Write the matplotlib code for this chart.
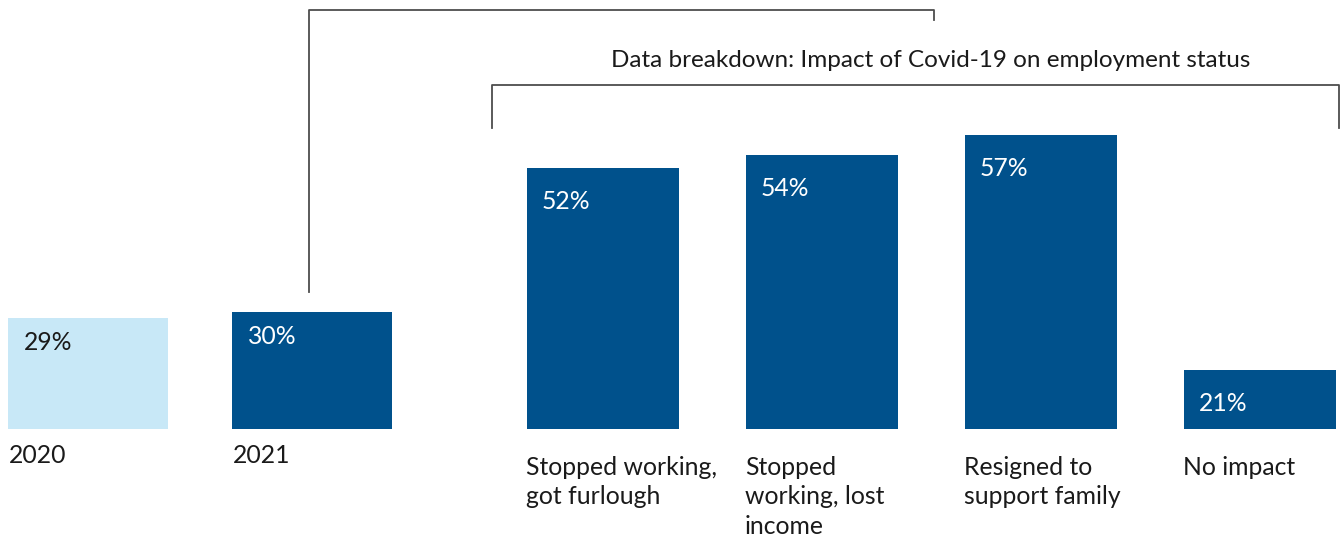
import matplotlib
matplotlib.use("Agg")
import matplotlib.pyplot as plt
from matplotlib.lines import Line2D
import numpy as np

# ---- data ----
categories = ["2020", "2021", "Stopped working,\ngot furlough", "Stopped\nworking, lost\nincome",
              "Resigned to\nsupport family", "No impact"]
values = [29, 30, 52, 54, 57, 21]
value_labels = ["29%", "30%", "52%", "54%", "57%", "21%"]
title_text = "Data breakdown: Impact of Covid-19 on employment status"

# ---- style / layout ----
DARK = "#00518C"
LIGHT = "#C8E8F7"
TEXT = "#1a1a1a"
LINE = "#4d4d4d"
colors = [LIGHT, DARK, DARK, DARK, DARK, DARK]
label_colors = [TEXT, "white", "white", "white", "white", "white"]

plt.rcParams["font.family"] = ["Lato", "DejaVu Sans"]

W, H = 1341, 537
fig = plt.figure(figsize=(W / 100, H / 100), dpi=100)
ax = fig.add_axes([0, 0, 1, 1])
ax.set_axis_off()

# value axis: baseline at pixel row 429, truncated at ~12 %
base_px = 429
px_per_unit = 6.545
base_val = 12.06
ax.set_xlim(0, W)
ax.set_ylim(base_val - (H - base_px) / px_per_unit, base_val + base_px / px_per_unit)

# positions: two groups
n = len(values)
left_start, left_step = 88.5, 224
right_start, right_step = 603, 219
centers = np.array([left_start + i * left_step if i < 2 else right_start + (i - 2) * right_step
                    for i in range(n)])
widths = np.array([160 if i < 2 else 152 for i in range(n)])

vals = np.array(values, dtype=float)
ax.bar(centers, vals - base_val, bottom=base_val, width=widths, color=colors, linewidth=0)

FS = 17.8
to_px_y = lambda px: ax.transData.inverted().transform((0, H - px))[1]

for i in range(n):
    left = centers[i] - widths[i] / 2
    top_px = base_px - (vals[i] - base_val) * px_per_unit
    off = 32 if i < 2 else 41
    ax.text(left + 15, to_px_y(top_px + off), value_labels[i], color=label_colors[i],
            fontsize=FS, ha="left", va="baseline")
    top_line = 444 if i < 2 else 456
    ax.text(left + (0 if i < 2 else -1), to_px_y(top_line), categories[i], color=TEXT, fontsize=FS,
            ha="left", va="top", linespacing=1.34)

# brackets (figure pixel coordinates)
def fpx(xs, ys):
    return [x / W for x in xs], [1 - y / H for y in ys]

x, y = fpx([309, 309, 934, 934], [292, 10, 10, 20])
fig.add_artist(Line2D(x, y, color=LINE, lw=1.3, transform=fig.transFigure))
x, y = fpx([492, 492, 1339, 1339], [128, 85, 85, 128])
fig.add_artist(Line2D(x, y, color=LINE, lw=1.3, transform=fig.transFigure))

fig.text(931 / W, 1 - 67 / H, title_text, color=TEXT, fontsize=17.5, ha="center", va="baseline")

fig.savefig("out.png", dpi=100)
